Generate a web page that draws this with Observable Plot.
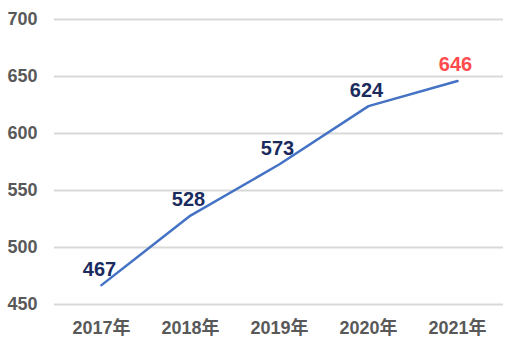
<!DOCTYPE html>
<html><head><meta charset="utf-8">
<script src="https://cdn.jsdelivr.net/npm/d3@7"></script>
<script src="https://cdn.jsdelivr.net/npm/@observablehq/plot@0.6"></script>
<style>
html,body{margin:0;padding:0;background:#fff;}
</style>
</head><body>
<div id="chart"></div>
<script>
const years = ["2017年","2018年","2019年","2020年","2021年"];
const values = [467, 528, 573, 624, 646];
const yTicks = [450, 500, 550, 600, 650, 700];
const labelColors = ["#1a2b5e","#1a2b5e","#1a2b5e","#1a2b5e","#ff4b4b"];

const data = years.map((y, i) => ({year: y, value: values[i], color: labelColors[i]}));

const chart = Plot.plot({
  width: 520,
  height: 355,
  marginLeft: 54,
  marginRight: 17,
  marginTop: 19,
  marginBottom: 51,
  style: {fontFamily: "'Liberation Sans', Arial, 'Noto Sans CJK JP', sans-serif", background: "#fff"},
  x: {type: "point", domain: years, padding: 0.5, label: null},
  y: {domain: [450, 700], label: null},
  marks: [
    Plot.ruleY(yTicks, {stroke: "#d9d9d9", strokeWidth: 2}),
    Plot.axisY(yTicks, {tickSize: 0, tickPadding: 17, fontSize: 18, fontWeight: "bold", fill: "#595959", label: null}),
    Plot.axisX({tickSize: 0, tickPadding: 17, fontSize: 18, fontWeight: "bold", fill: "#595959", label: null}),
    Plot.line(data, {x: "year", y: "value", stroke: "#4472c4", strokeWidth: 2.5}),
    Plot.text(data, {x: "year", y: "value", text: d => String(d.value), fill: "color", dy: -16, dx: -2, fontSize: 20, fontWeight: "bold"})
  ]
});
document.getElementById("chart").appendChild(chart);
</script>
</body></html>
